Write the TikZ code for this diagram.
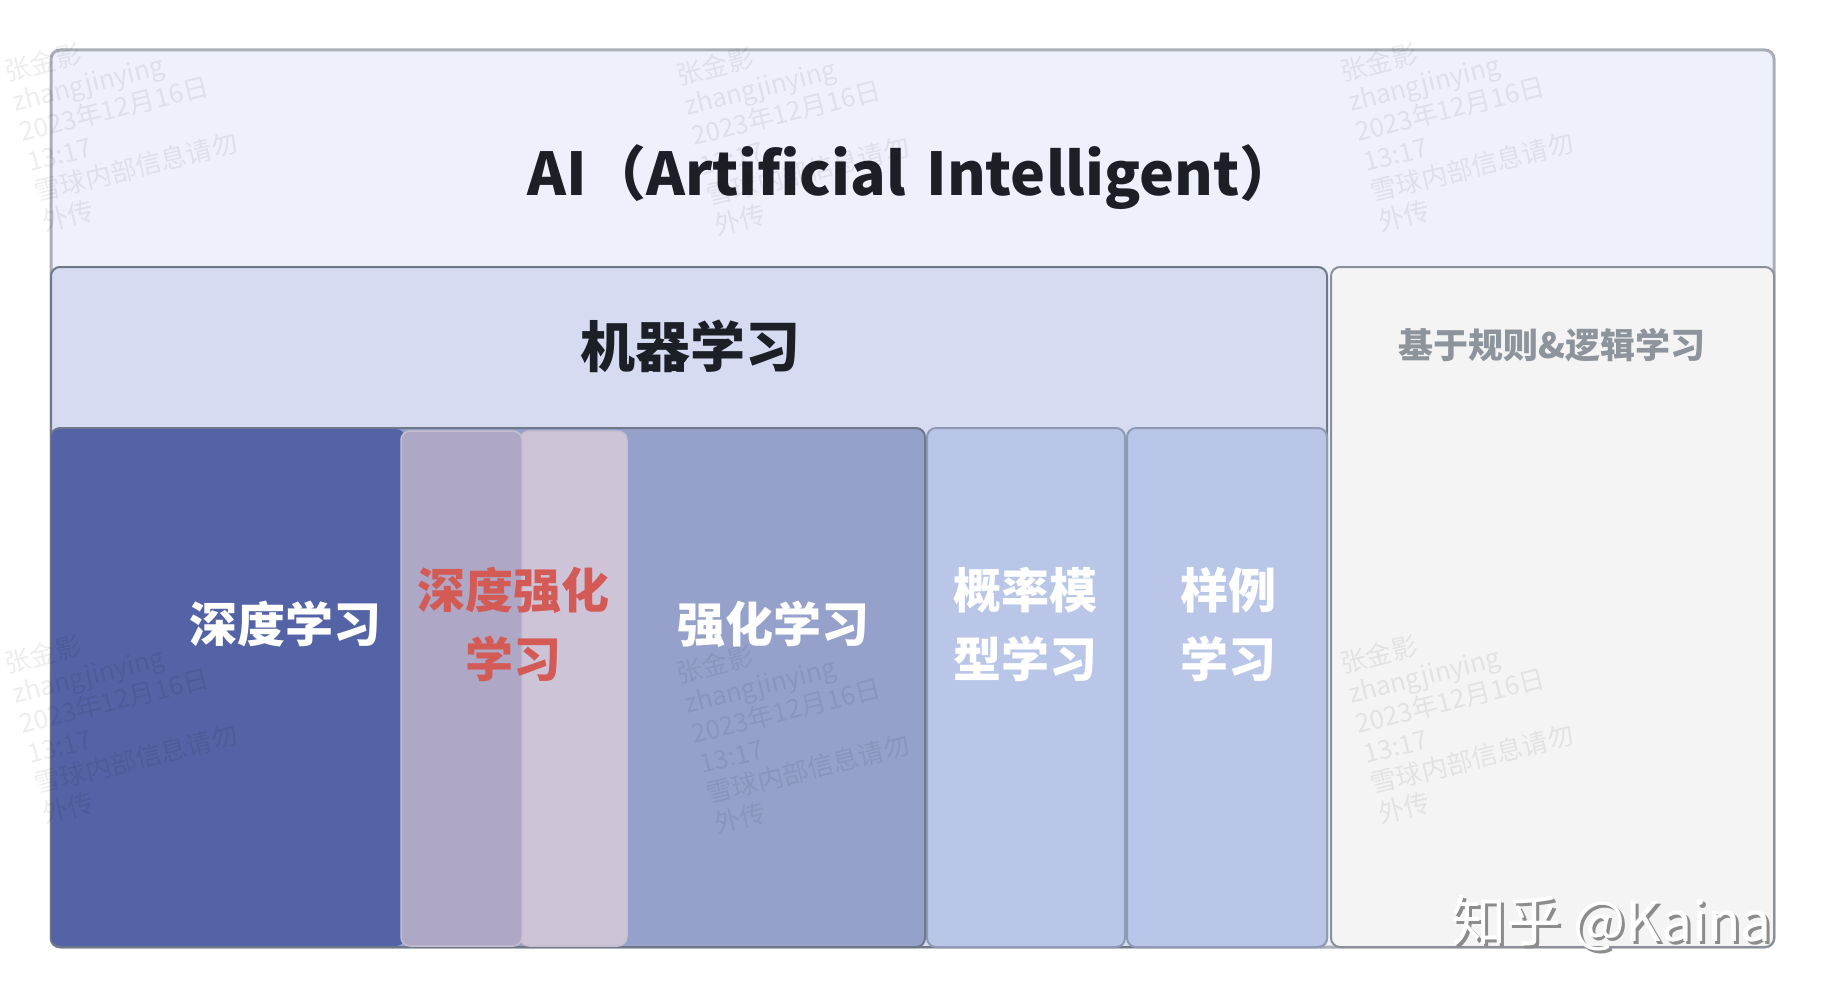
\documentclass[tikz,border=0pt]{standalone}
\usepackage{fontspec}
\setmainfont{Noto Sans CJK SC}
\newfontfamily\cjkfont{Noto Sans CJK SC}
\definecolor{aifill}{HTML}{EEF1FB}
\definecolor{aiedge}{HTML}{A9AEB7}
\definecolor{mlfill}{HTML}{D6DBF2}
\definecolor{mledge}{HTML}{6E7888}
\definecolor{dlfill}{HTML}{5363A5}
\definecolor{drlA}{HTML}{AEA8C6}
\definecolor{drlB}{HTML}{CEC4D8}
\definecolor{drledge}{HTML}{C4BFCF}
\definecolor{rlfill}{HTML}{95A1CB}
\definecolor{pbfill}{HTML}{B9C6E8}
\definecolor{pbedge}{HTML}{8F9AB5}
\definecolor{rulefill}{HTML}{F4F4F4}
\definecolor{ruleedge}{HTML}{8A9099}
\definecolor{titlec}{HTML}{1C2026}
\definecolor{redtxt}{HTML}{D45A55}
\definecolor{greytxt}{HTML}{8E949C}
\tikzset{
  box/.style={rounded corners=9pt},
  wm/.style={font=\cjkfont\fontsize{26}{31}\selectfont, text=black, opacity=0.07, rotate=14, anchor=north west, align=left, inner sep=0pt},
  lbl/.style={font=\cjkfont\bfseries\fontsize{48}{69}\selectfont, align=center, inner sep=0pt},
}
\begin{document}
\begin{tikzpicture}[x=1pt,y=-1pt]
\useasboundingbox (0,0) rectangle (1822,998);
\fill[white] (0,0) rectangle (1822,998);
% AI box
\draw[box, fill=aifill, draw=aiedge, line width=3pt] (51,50) rectangle (1774,947);
% ML box
\draw[box, fill=mlfill, draw=mledge, line width=2pt] (51,267) rectangle (1327,947);
% rule box
\draw[box, fill=rulefill, draw=ruleedge, line width=2pt] (1331,267) rectangle (1774,947);
% sub boxes
\draw[box, fill=pbfill, draw=pbedge, line width=2pt] (1127,428) rectangle (1327,947);
\draw[box, fill=pbfill, draw=pbedge, line width=2pt] (927,428) rectangle (1125,947);
\draw[box, fill=rlfill, draw=mledge, line width=2pt] (51,428) rectangle (925,947);
\fill[box, fill=dlfill] (51,429) rectangle (405,946);
\draw[box, fill=drlB, draw=drledge, line width=1.5pt] (520,431) rectangle (627,946);
\draw[box, fill=drlA, draw=drledge, line width=1.5pt] (401,431) rectangle (522,946);
% labels
\node[font=\cjkfont\bfseries\fontsize{59}{64}\selectfont, text=titlec, inner sep=0pt] (ai) at (913,177) {AI（Artificial\hspace{0.12em} Intelligent）};
\node[font=\cjkfont\bfseries\fontsize{55}{60}\selectfont, text=titlec, inner sep=0pt] (ml) at (690,346) {机器学习};
\node[font=\cjkfont\bfseries\fontsize{35}{40}\selectfont, text=greytxt, inner sep=0pt] (rule) at (1552,345) {基于规则\&逻辑学习};
\node[lbl, text=white] (dl) at (285,624) {深度学习};
\node[lbl, text=redtxt] (drl) at (513,624) {深度强化\\学习};
\node[lbl, text=white] (rl) at (773,624) {强化学习};
\node[lbl, text=white] (pb) at (1025,624) {概率模\\型学习};
\node[lbl, text=white] (ex) at (1228,624) {样例\\学习};
% watermarks
\foreach \wx/\wy [count=\i] in {2/60, 674/64, 1338/60, 2/652, 674/662, 1338/652} {
  \node[wm] (wm\i) at (\wx,\wy) {张金影\\zhangjinying\\2023年12月16日\\13:17\\雪球内部信息请勿\\外传};
}
% zhihu mark
\node[font=\cjkfont\fontsize{55}{60}\selectfont, text=black!45, anchor=base east, inner sep=0pt] (zhs) at (1775,944) {知乎 @Kaina};
\node[font=\cjkfont\fontsize{55}{60}\selectfont, text=white, anchor=base east, inner sep=0pt] (zh) at (1772,941) {知乎 @Kaina};
\end{tikzpicture}
\end{document}
